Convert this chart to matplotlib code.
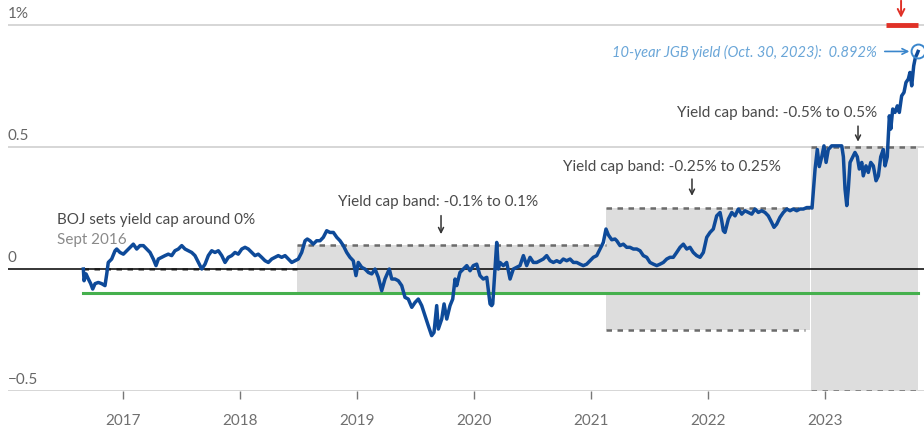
import matplotlib.pyplot as plt

plt.rcParams['font.family'] = ['Lato', 'DejaVu Sans']

# 10-year JGB yield (%); x in decimal years
years = [
    2016.661, 2016.667, 2016.684, 2016.703, 2016.724, 2016.741, 2016.761, 2016.789, 2016.818, 2016.846,
    2016.861, 2016.874, 2016.903, 2016.932, 2016.946, 2016.974, 2017.003, 2017.032, 2017.060, 2017.088,
    2017.117, 2017.145, 2017.174, 2017.203, 2017.231, 2017.259, 2017.282, 2017.302, 2017.331, 2017.359,
    2017.387, 2017.416, 2017.444, 2017.473, 2017.502, 2017.530, 2017.558, 2017.587, 2017.615, 2017.644,
    2017.673, 2017.701, 2017.729, 2017.758, 2017.786, 2017.815, 2017.844, 2017.872, 2017.900, 2017.929,
    2017.957, 2017.985, 2018.015, 2018.043, 2018.071, 2018.100, 2018.128, 2018.156, 2018.185, 2018.214,
    2018.242, 2018.271, 2018.299, 2018.327, 2018.356, 2018.385, 2018.413, 2018.442, 2018.470, 2018.498,
    2018.527, 2018.556, 2018.575, 2018.598, 2018.626, 2018.655, 2018.684, 2018.712, 2018.741, 2018.769,
    2018.798, 2018.827, 2018.855, 2018.883, 2018.912, 2018.940, 2018.968, 2018.991, 2019.011, 2019.040,
    2019.068, 2019.097, 2019.126, 2019.154, 2019.182, 2019.211, 2019.239, 2019.276, 2019.297, 2019.325,
    2019.353, 2019.382, 2019.410, 2019.438, 2019.468, 2019.496, 2019.524, 2019.553, 2019.581, 2019.609,
    2019.638, 2019.658, 2019.681, 2019.695, 2019.724, 2019.744, 2019.767, 2019.795, 2019.818, 2019.838,
    2019.852, 2019.880, 2019.909, 2019.938, 2019.966, 2019.994, 2020.023, 2020.051, 2020.079, 2020.109,
    2020.137, 2020.151, 2020.160, 2020.194, 2020.208, 2020.222, 2020.250, 2020.279, 2020.308, 2020.336,
    2020.365, 2020.393, 2020.422, 2020.450, 2020.479, 2020.507, 2020.536, 2020.564, 2020.592, 2020.621,
    2020.650, 2020.678, 2020.707, 2020.735, 2020.763, 2020.792, 2020.821, 2020.849, 2020.878, 2020.906,
    2020.934, 2020.963, 2020.991, 2021.020, 2021.049, 2021.077, 2021.105, 2021.128, 2021.148, 2021.177,
    2021.205, 2021.220, 2021.248, 2021.276, 2021.305, 2021.333, 2021.362, 2021.391, 2021.419, 2021.447,
    2021.476, 2021.504, 2021.533, 2021.562, 2021.590, 2021.618, 2021.647, 2021.675, 2021.703, 2021.732,
    2021.761, 2021.789, 2021.818, 2021.846, 2021.874, 2021.903, 2021.932, 2021.960, 2021.989, 2022.017,
    2022.045, 2022.074, 2022.103, 2022.117, 2022.131, 2022.145, 2022.174, 2022.203, 2022.231, 2022.259,
    2022.288, 2022.316, 2022.345, 2022.374, 2022.402, 2022.430, 2022.459, 2022.487, 2022.515, 2022.544,
    2022.564, 2022.587, 2022.615, 2022.644, 2022.673, 2022.701, 2022.729, 2022.758, 2022.786, 2022.815,
    2022.844, 2022.872, 2022.889, 2022.915, 2022.934, 2022.951, 2022.972, 2022.991, 2023.009, 2023.028,
    2023.057, 2023.100, 2023.143, 2023.157, 2023.171, 2023.186, 2023.199, 2023.214, 2023.237, 2023.256,
    2023.276, 2023.293, 2023.314, 2023.327, 2023.350, 2023.370, 2023.391, 2023.413, 2023.436, 2023.456,
    2023.476, 2023.498, 2023.513, 2023.532, 2023.550, 2023.562, 2023.579, 2023.598, 2023.618, 2023.635,
    2023.655, 2023.675, 2023.692, 2023.712, 2023.726, 2023.741, 2023.758, 2023.772, 2023.786, 2023.795,
]
yields = [
    0.000, -0.048, -0.020, -0.040, -0.060, -0.082, -0.060, -0.055, -0.060, -0.068,
    -0.020, 0.027, 0.041, 0.075, 0.082, 0.068, 0.061, 0.075, 0.089, 0.102,
    0.082, 0.096, 0.096, 0.082, 0.068, 0.041, 0.014, 0.041, 0.048, 0.055,
    0.061, 0.055, 0.075, 0.082, 0.096, 0.082, 0.075, 0.068, 0.055, 0.027,
    0.000, 0.020, 0.055, 0.075, 0.068, 0.075, 0.055, 0.027, 0.048, 0.055,
    0.068, 0.061, 0.082, 0.089, 0.082, 0.068, 0.055, 0.061, 0.048, 0.034,
    0.027, 0.041, 0.048, 0.055, 0.048, 0.055, 0.041, 0.027, 0.034, 0.041,
    0.068, 0.116, 0.123, 0.116, 0.102, 0.116, 0.116, 0.130, 0.157, 0.150,
    0.150, 0.130, 0.116, 0.096, 0.068, 0.048, 0.034, -0.027, 0.027, 0.007,
    0.000, -0.014, -0.020, 0.000, -0.034, -0.089, -0.041, 0.000, -0.041, -0.041,
    -0.048, -0.068, -0.116, -0.123, -0.157, -0.137, -0.123, -0.150, -0.191, -0.232,
    -0.273, -0.260, -0.150, -0.246, -0.205, -0.143, -0.205, -0.150, -0.123, -0.041,
    -0.068, -0.014, 0.000, 0.014, -0.007, 0.014, 0.020, -0.027, -0.041, -0.034,
    -0.143, -0.150, -0.143, 0.109, 0.000, 0.027, 0.014, 0.027, -0.041, 0.000,
    0.007, 0.014, 0.055, 0.014, 0.048, 0.027, 0.027, 0.034, 0.041, 0.055,
    0.034, 0.027, 0.034, 0.027, 0.041, 0.034, 0.041, 0.027, 0.027, 0.020,
    0.014, 0.020, 0.034, 0.048, 0.055, 0.082, 0.109, 0.164, 0.140, 0.120,
    0.123, 0.116, 0.096, 0.102, 0.089, 0.089, 0.082, 0.082, 0.075, 0.055,
    0.048, 0.027, 0.020, 0.014, 0.020, 0.027, 0.041, 0.048, 0.048, 0.068,
    0.089, 0.102, 0.082, 0.089, 0.068, 0.055, 0.048, 0.068, 0.130, 0.150,
    0.164, 0.218, 0.232, 0.198, 0.157, 0.150, 0.205, 0.232, 0.218, 0.246,
    0.225, 0.239, 0.232, 0.225, 0.246, 0.232, 0.239, 0.232, 0.218, 0.191,
    0.171, 0.184, 0.212, 0.232, 0.246, 0.239, 0.246, 0.239, 0.246, 0.246,
    0.252, 0.252, 0.250, 0.410, 0.490, 0.420, 0.460, 0.505, 0.437, 0.490,
    0.505, 0.505, 0.505, 0.460, 0.328, 0.260, 0.328, 0.437, 0.460, 0.478,
    0.460, 0.410, 0.437, 0.382, 0.423, 0.396, 0.437, 0.423, 0.362, 0.382,
    0.460, 0.490, 0.423, 0.460, 0.628, 0.574, 0.656, 0.642, 0.669, 0.642,
    0.710, 0.724, 0.765, 0.779, 0.806, 0.751, 0.833, 0.867, 0.881, 0.892,
]

# yield cap bands: (start, end, half width)
band_start = [2016.661, 2018.487, 2021.132, 2022.876]
band_end = [2018.487, 2021.126, 2022.868, 2023.795]
band_half = [0.0, 0.1, 0.25, 0.5]
policy_rate = -0.1
new_ref_start, new_ref_end, new_ref = 2023.521, 2023.795, 1.0

year_ticks = [2017, 2018, 2019, 2020, 2021, 2022, 2023]
y_gridlines = [1.0, 0.5, -0.5]
y_labels = ['1%', '0.5', '0', '\u22120.5']
y_label_pos = [1.0, 0.5, 0.0, -0.5]

blue = '#0e4a99'
dash_grey = '#6b6b6b'
text_grey = '#4a4a4a'
light_blue = '#6aa6d8'

fig = plt.figure(figsize=(9.24, 4.27), dpi=100)
ax = fig.add_axes([8 / 924, 35 / 427, 916 / 924, 392 / 427])
ax.set_xlim(2016.017, 2023.846)
ax.set_ylim(-0.5, 1.107)
for s in ax.spines.values():
    s.set_visible(False)

for g in y_gridlines:
    ax.axhline(g, color='#cfcfcf', lw=1.2, zorder=0.5)
ax.axhline(0, color='black', lw=1.1, zorder=2.5)

for i in range(len(band_start)):
    x0, x1, h = band_start[i], band_end[i], band_half[i]
    if h > 0:
        ax.fill_between([x0, x1], [-h, -h], [h, h], color='#dddddd', lw=0, zorder=1)
    ax.plot([x0, x1], [h, h], color=dash_grey, lw=1.8, ls=(0, (2.2, 2.2)), zorder=2)
    if h > 0:
        lo_end = x1 - 0.035 if i == 2 else x1
        ax.plot([x0, lo_end], [-h, -h], color=dash_grey, lw=1.8, ls=(0, (2.2, 2.2)), zorder=2)

ax.plot([band_start[0], band_end[-1]], [policy_rate, policy_rate], color='#45b04d', lw=2.2, zorder=3)
ax.plot(years, yields, color=blue, lw=2.5, zorder=4, solid_joinstyle='round')


def down_arrow(x, y_top, y_bot, color, lw=1.1, ms=9):
    ax.annotate('', xy=(x, y_bot), xytext=(x, y_top), annotation_clip=False,
                arrowprops=dict(arrowstyle='->', color=color, lw=lw, mutation_scale=ms,
                                shrinkA=0, shrinkB=0))


# new 1% reference
ax.plot([new_ref_start, new_ref_end], [new_ref, new_ref], color='#e03127', lw=3.5,
        solid_capstyle='butt', clip_on=False, zorder=5)
down_arrow(2023.650, 1.100, 1.030, '#e03127', lw=1.4, ms=12)

# latest value
ax.plot(years[-1], yields[-1], 'o', ms=10, mfc='none', mec='#3a86cc', mew=1.4, zorder=6)
ax.annotate('', xy=(years[-1] - 0.05, yields[-1]), xytext=(2023.487, yields[-1]),
            arrowprops=dict(arrowstyle='->', color='#3a86cc', lw=1.2, mutation_scale=10))
ax.text(2023.444, yields[-1], '10-year JGB yield (Oct. 30, 2023):  0.892%', color=light_blue,
        fontsize=10.5, style='italic', ha='right', va='center')

# band labels
ax.text(2023.444, 0.643, 'Yield cap band: -0.5% to 0.5%', color=text_grey, fontsize=11,
        ha='right', va='center')
down_arrow(2023.282, 0.586, 0.522, '#333333')
ax.text(2020.761, 0.422, 'Yield cap band: -0.25% to 0.25%', color=text_grey, fontsize=11,
        ha='left', va='center')
down_arrow(2021.863, 0.369, 0.300, '#333333')
ax.text(2018.838, 0.279, 'Yield cap band: -0.1% to 0.1%', color=text_grey, fontsize=11,
        ha='left', va='center')
down_arrow(2019.718, 0.219, 0.143, '#333333')
ax.text(2016.436, 0.205, 'BOJ sets yield cap around 0%', color=text_grey, fontsize=11,
        ha='left', va='center')
ax.text(2016.436, 0.123, 'Sept 2016', color='#8a8a8a', fontsize=11, ha='left', va='center')

# y labels sit above their gridlines
for lab, v in zip(y_labels, y_label_pos):
    ax.text(2016.017, v + 0.02, lab, color='#666666', fontsize=11, ha='left', va='bottom')
ax.set_yticks([])

ax.set_xticks(year_ticks)
ax.set_xticklabels([str(y) for y in year_ticks])
ax.tick_params(axis='x', length=6, width=1, color='#777777', labelcolor='#707070',
               labelsize=11, pad=10)

fig.savefig('out.png', dpi=100)
